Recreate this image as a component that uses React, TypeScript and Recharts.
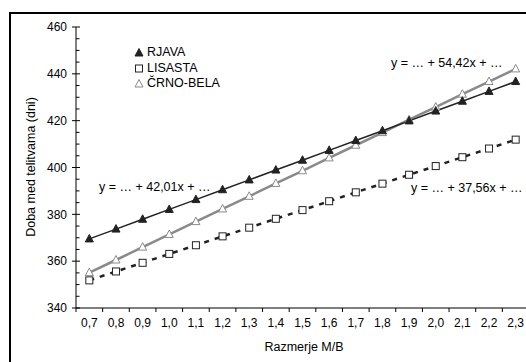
import React from 'react'
import { LineChart, Line, XAxis, YAxis } from 'recharts'

// razmerje M/B (kategorije na osi x)
const ratios = ['0,7', '0,8', '0,9', '1,0', '1,1', '1,2', '1,3', '1,4', '1,5', '1,6', '1,7', '1,8', '1,9', '2,0', '2,1', '2,2', '2,3']

// doba med telitvama (dni), odčitano s slike
const rjava = [369.5, 373.7, 377.9, 382.1, 386.3, 390.5, 394.7, 398.9, 403.1, 407.3, 411.5, 415.7, 419.9, 424.1, 428.3, 432.5, 436.7]
const lisasta = [351.8, 355.6, 359.3, 363.1, 366.8, 370.6, 374.3, 378.1, 381.8, 385.6, 389.4, 393.1, 396.9, 400.6, 404.4, 408.1, 411.9]
const crnoBela = [355.1, 360.5, 366.0, 371.4, 376.9, 382.3, 387.7, 393.2, 398.6, 404.1, 409.5, 414.9, 420.4, 425.8, 431.3, 436.7, 442.1]

const yTicks = [340, 345, 350, 355, 360, 365, 370, 375, 380, 385, 390, 395, 400, 405, 410, 415, 420, 425, 430, 435, 440, 445, 450, 455, 460]

const data = ratios.map((r, i) => ({
  ratio: r,
  rjava: rjava[i],
  lisasta: lisasta[i],
  crnoBela: crnoBela[i]
}))

const FONT = '"Liberation Sans", Arial, sans-serif'
const DARK = '#222222'
const GREY = '#8a8a8a'

const CHART_W = 560
const CHART_H = 362
const PLOT_LEFT = 76
const PLOT_RIGHT = 529
const BAND = (PLOT_RIGHT - PLOT_LEFT) / ratios.length

const FilledTriangle = (props: any) => {
  const { cx, cy } = props
  if (cx == null || cy == null) return null
  return <path d={`M${cx},${cy - 4.5} L${cx + 4},${cy + 3} L${cx - 4},${cy + 3} Z`} fill={DARK} stroke={DARK} strokeWidth={1} />
}

const HollowTriangle = (props: any) => {
  const { cx, cy } = props
  if (cx == null || cy == null) return null
  return <path d={`M${cx},${cy - 4.5} L${cx + 4},${cy + 3} L${cx - 4},${cy + 3} Z`} fill="#fff" stroke={GREY} strokeWidth={1} />
}

const HollowSquare = (props: any) => {
  const { cx, cy } = props
  if (cx == null || cy == null) return null
  return <rect x={cx - 3.5} y={cy - 3.5} width={7} height={7} fill="#fff" stroke={DARK} strokeWidth={1} />
}

const YTick = (props: any) => {
  const { x, y, payload } = props
  const major = payload.value % 20 === 0
  return (
    <g>
      {major
        ? <line x1={x - 4} x2={x + 4} y1={y} y2={y} stroke="#000" />
        : <line x1={x} x2={x + 3.5} y1={y} y2={y} stroke="#000" />}
      {major && (
        <text x={x - 9} y={y} dy={4.2} textAnchor="end" fontSize={12} fontFamily={FONT} fill="#000">
          {payload.value}
        </text>
      )}
    </g>
  )
}

const XTick = (props: any) => {
  const { x, y, payload } = props
  const bx = x - BAND / 2
  return (
    <g>
      <line x1={bx} x2={bx} y1={y} y2={y + 4} stroke="#000" />
      <text x={x} y={y + 18.5} textAnchor="middle" fontSize={12} fontFamily={FONT} fill="#000">
        {payload.value}
      </text>
    </g>
  )
}

const legendItems = [
  { name: 'RJAVA', mark: <path d="M5,1.5 L9,9 L1,9 Z" fill={DARK} stroke={DARK} /> },
  { name: 'LISASTA', mark: <rect x={1.5} y={2} width={7} height={7} fill="#fff" stroke={DARK} /> },
  { name: 'ČRNO-BELA', mark: <path d="M5,1.5 L9,9 L1,9 Z" fill="#fff" stroke={GREY} /> }
]

const textStyle: React.CSSProperties = {
  position: 'absolute',
  fontFamily: FONT,
  fontSize: 12.5,
  color: '#000',
  whiteSpace: 'nowrap',
  lineHeight: '14px'
}

export default function App() {
  return (
    <div style={{ position: 'fixed', left: 0, top: 0, width: 526, height: 362, overflow: 'hidden', background: '#fff' }}>
      <div style={{ position: 'absolute', left: 9, top: 12, width: 600, height: 400, border: '2px solid #000' }} />
      <div style={{ position: 'absolute', left: 0, top: 0 }}>
        <LineChart
          width={CHART_W}
          height={CHART_H}
          data={data}
          margin={{ top: 27, right: CHART_W - PLOT_RIGHT, bottom: 0, left: 0 }}
        >
          <XAxis
            dataKey="ratio"
            interval={0}
            padding={{ left: BAND / 2, right: BAND / 2 }}
            tickSize={0}
            tickMargin={0}
            tickLine={false}
            axisLine={{ stroke: '#000' }}
            height={54}
            tick={<XTick />}
          />
          <YAxis
            domain={[340, 460]}
            ticks={yTicks}
            interval={0}
            width={PLOT_LEFT}
            tickSize={0}
            tickMargin={0}
            tickLine={false}
            axisLine={{ stroke: '#000' }}
            tick={<YTick />}
          />
          <Line
            dataKey="lisasta"
            stroke={DARK}
            strokeWidth={2.5}
            strokeDasharray="5 6"
            dot={<HollowSquare />}
            isAnimationActive={false}
          />
          <Line
            dataKey="crnoBela"
            stroke={GREY}
            strokeWidth={2.5}
            dot={<HollowTriangle />}
            isAnimationActive={false}
          />
          <Line
            dataKey="rjava"
            stroke={DARK}
            strokeWidth={1.5}
            dot={<FilledTriangle />}
            isAnimationActive={false}
          />
        </LineChart>
      </div>

      {/* legenda */}
      <div style={{ position: 'absolute', left: 134, top: 44.5 }}>
        {legendItems.map((it) => (
          <div key={it.name} style={{ display: 'flex', alignItems: 'center', height: 15.5, fontFamily: FONT, fontSize: 12.5 }}>
            <svg width={10} height={10} style={{ marginRight: 3 }}>{it.mark}</svg>
            <span>{it.name}</span>
          </div>
        ))}
      </div>

      {/* enačbe trendov */}
      <div style={{ ...textStyle, left: 391, top: 56 }}>y = … + 54,42x + …</div>
      <div style={{ ...textStyle, left: 99, top: 180 }}>y = … + 42,01x + …</div>
      <div style={{ ...textStyle, left: 411, top: 181 }}>y = … + 37,56x + …</div>

      {/* naslova osi */}
      <div style={{ ...textStyle, left: 31, top: 167, transform: 'translate(-50%, -50%) rotate(-90deg)' }}>
        Doba med telitvama (dni)
      </div>
      <div style={{ ...textStyle, left: 304, top: 340, transform: 'translateX(-50%)' }}>Razmerje M/B</div>
    </div>
  )
}
